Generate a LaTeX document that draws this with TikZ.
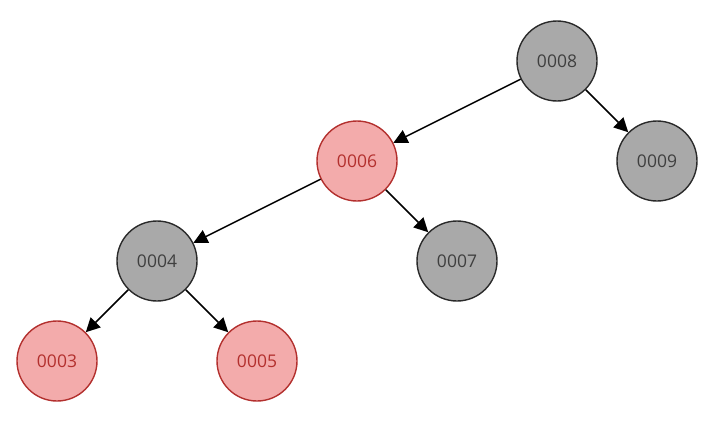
\documentclass[tikz,border=0pt]{standalone}
\usepackage{fontspec}
\setmainfont{Open Sans}
\usetikzlibrary{arrows.meta}
\definecolor{blk}{HTML}{A9A9A9}
\definecolor{blkline}{HTML}{2A2A2A}
\definecolor{redfill}{HTML}{F3ABAB}
\definecolor{redline}{HTML}{B3302E}
\begin{document}
\begin{tikzpicture}[x=1pt,y=-1pt,
  treenode/.style={circle,minimum size=80pt,inner sep=0pt,line width=1.4pt,font=\fontsize{17.5}{20}\selectfont},
  blacknode/.style={treenode,draw=blkline,fill=blk,text=blkline!90},
  rednode/.style={treenode,draw=redline,fill=redfill,text=redline},
  edge/.style={draw=black,line width=1.5pt,-{Triangle[length=14pt,width=14pt]}}]
\useasboundingbox (0,0) rectangle (719,439);
\node[blacknode] (n8) at (557,61) {0008};
\node[rednode] (n6) at (357,161) {0006};
\node[blacknode] (n9) at (657,161) {0009};
\node[blacknode] (n4) at (157,261) {0004};
\node[blacknode] (n7) at (457,261) {0007};
\node[rednode] (n3) at (57,361) {0003};
\node[rednode] (n5) at (257,361) {0005};
\draw[edge] (n8) -- (n6);
\draw[edge] (n8) -- (n9);
\draw[edge] (n6) -- (n4);
\draw[edge] (n6) -- (n7);
\draw[edge] (n4) -- (n3);
\draw[edge] (n4) -- (n5);
\end{tikzpicture}
\end{document}
